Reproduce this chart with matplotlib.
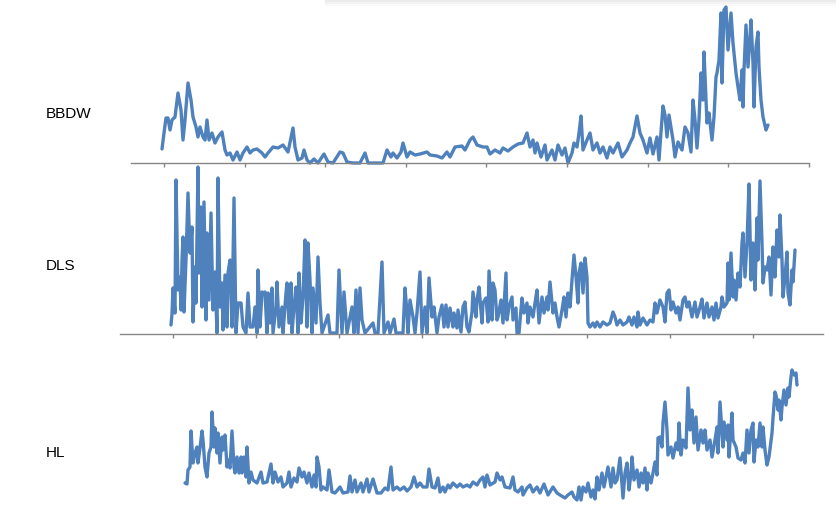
import matplotlib
matplotlib.use("Agg")
import matplotlib.pyplot as plt
from matplotlib.patches import Rectangle

# ---------------- data ----------------
series_names = ["BBDW", "DLS", "HL"]

bbdw_x = [0, 2, 4, 6, 8, 10, 13, 16, 19, 21, 23, 26, 29, 31, 34, 36, 38, 41, 43, 45, 47, 50, 53, 56, 60,
          63, 65, 68, 71, 75, 78, 81, 85, 88, 91, 95, 100, 103, 106, 111, 116, 121, 126, 131, 133, 136, 140,
          142, 145, 148, 152, 156, 162, 166, 171, 178, 181, 185, 191, 198, 203, 206, 211, 216, 221, 225, 229,
          231, 235, 239, 241, 245, 248, 253, 258, 265, 268, 275, 280, 285, 288, 293, 300, 303, 308, 311, 315,
          321, 325, 328, 333, 338, 341, 346, 351, 356, 361, 365, 368, 371, 373, 375, 379, 383, 385, 390, 393,
          396, 400, 403, 406, 410, 412, 415, 417, 419, 421, 425, 428, 431, 435, 438, 441, 445, 448, 451, 456,
          460, 465, 468, 471, 475, 478, 481, 485, 488, 491, 495, 497, 499, 501, 503, 505, 507, 511, 513, 516,
          520, 523, 526, 529, 531, 533, 535, 537, 539, 541, 542, 545, 547, 550, 552, 554, 555, 557, 559, 560,
          562, 564, 566, 569, 571, 574, 576, 578, 580, 581, 582, 584, 586, 588, 589, 591, 592, 594, 596, 597,
          599, 601, 604, 606]
bbdw_y = [14, 30, 45, 45, 33, 43, 46, 70, 53, 23, 43, 80, 63, 46, 36, 26, 36, 26, 23, 43, 23, 30, 20, 26, 31,
          13, 8, 10, 3, 11, 3, 10, 16, 10, 13, 14, 10, 6, 10, 16, 15, 18, 11, 35, 16, 3, 5,
          13, 3, 0, 4, 0, 9, 1, 0, 11, 10, 1, 0, 0, 10, 0, 0, 0, 0, 13, 6,
          10, 5, 11, 20, 6, 11, 8, 9, 11, 8, 7, 5, 11, 6, 16, 17, 13, 23, 26, 18,
          16, 16, 9, 13, 10, 15, 12, 16, 19, 20, 30, 16, 23, 10, 20, 6, 18, 3, 13, 3,
          18, 8, 15, 0, 10, 20, 16, 30, 47, 13, 23, 30, 13, 20, 10, 16, 5, 16, 10, 20,
          6, 13, 20, 26, 47, 30, 23, 10, 25, 9, 26, 3, 31, 57, 48, 26, 48, 23, 6, 21,
          13, 36, 30, 11, 63, 43, 15, 43, 90, 63, 111, 40, 50, 23, 46, 86, 90, 103, 150, 80,
          153, 156, 113, 150, 120, 90, 76, 63, 93, 56, 93, 138, 96, 126, 143, 100, 56, 116, 131, 96,
          63, 46, 33, 38]

dls_x = [0, 1, 2, 4, 5, 7, 9, 10, 11, 12, 13, 15, 17, 19, 21, 22, 24, 25, 27, 28, 30, 31, 33, 35, 36, 38,
         40, 42, 44, 46, 47, 49, 51, 52, 54, 56, 57, 59, 61, 63, 65, 67, 70, 72, 75, 77, 79, 82, 84, 86, 87,
         89, 91, 93, 94, 96, 97, 99, 101, 102, 105, 106, 108, 111, 112, 115, 116, 118, 120, 121, 123, 125,
         127, 128, 130, 132, 134, 136, 137, 139, 141, 142, 145, 147, 149, 151, 157, 159, 166, 168, 171, 173,
         176, 181, 183, 185, 187, 189, 191, 194, 202, 204, 207, 211, 213, 217, 219, 223, 225, 232, 234, 236,
         237, 239, 242, 244, 246, 249, 251, 254, 256, 258, 261, 263, 266, 268, 271, 273, 275, 277, 279, 282,
         283, 286, 287, 290, 292, 294, 296, 298, 301, 302, 305, 306, 308, 311, 312, 315, 317, 318, 321, 322,
         324, 326, 327, 330, 332, 335, 336, 338, 341, 342, 345, 346, 348, 351, 353, 356, 357, 359, 362, 364,
         366, 368, 371, 373, 376, 377, 379, 382, 384, 386, 388, 391, 393, 395, 397, 399, 401, 403, 405, 407,
         408, 410, 412, 414, 416, 417, 419, 422, 424, 426, 429, 432, 436, 439, 442, 444, 446, 449, 452, 456,
         458, 461, 463, 466, 467, 469, 472, 476, 479, 482, 484, 486, 489, 492, 494, 496, 498, 500, 502, 505,
         507, 509, 512, 514, 516, 518, 521, 524, 526, 529, 531, 533, 536, 538, 541, 543, 545, 547, 550, 551,
         553, 556, 557, 558, 560, 562, 563, 565, 567, 569, 571, 572, 574, 576, 578, 580, 582, 584, 586, 587,
         589, 591, 592, 594, 596, 598, 600, 602, 604, 606, 608, 609, 611, 612, 614, 616, 617, 619, 621, 622,
         624]
dls_y = [9, 20, 46, 21, 154, 44, 57, 24, 74, 97, 22, 74, 141, 81, 107, 12, 67, 31, 167, 61, 127, 27, 132, 14, 101, 34,
         121, 24, 62, 1, 156, 27, 51, 4, 59, 7, 61, 74, 7, 136, 1, 31, 31, 7, 1, 41, 7, 7, 27, 1, 64,
         7, 42, 41, 42, 1, 41, 11, 46, 1, 27, 52, 7, 27, 1, 41, 51, 11, 51, 1, 27, 47,
         1, 61, 11, 37, 94, 7, 91, 54, 1, 46, 11, 77, 31, 1, 19, 1, 1, 64, 1, 42,
         1, 27, 1, 44, 1, 46, 14, 1, 11, 1, 1, 72, 1, 12, 1, 15, 1, 1, 46, 21,
         1, 34, 17, 1, 21, 62, 1, 27, 1, 56, 17, 27, 1, 17, 29, 7, 29, 7, 26, 7,
         21, 6, 24, 2, 27, 32, 7, 2, 22, 42, 17, 34, 47, 11, 31, 36, 12, 63, 14, 51,
         44, 14, 17, 34, 11, 61, 14, 27, 37, 14, 26, 1, 1, 36, 21, 31, 11, 27, 17, 31,
         44, 11, 37, 21, 37, 24, 52, 21, 31, 17, 7, 24, 37, 17, 41, 27, 54, 79, 57, 31,
         61, 71, 41, 76, 57, 11, 7, 11, 7, 12, 7, 12, 9, 11, 22, 17, 9, 14, 9, 12,
         17, 9, 17, 7, 22, 9, 16, 9, 14, 12, 31, 21, 34, 27, 12, 41, 44, 24, 32, 21,
         27, 14, 34, 37, 27, 32, 17, 32, 17, 27, 35, 16, 31, 17, 27, 14, 31, 16, 27, 37,
         27, 31, 71, 34, 81, 37, 54, 34, 61, 47, 91, 101, 57, 91, 150, 54, 91, 44, 116, 74,
         153, 91, 51, 67, 64, 77, 39, 87, 57, 104, 77, 119, 74, 37, 57, 82, 41, 29, 64, 52,
         84]

hl_x = [0, 2, 3, 5, 6, 8, 10, 12, 13, 15, 17, 18, 20, 22, 24, 26, 27, 29, 30, 32, 33, 35, 37, 38, 40, 42,
        43, 45, 47, 49, 50, 52, 54, 56, 57, 59, 61, 62, 64, 66, 68, 72, 76, 78, 82, 86, 88, 90, 93, 96, 98,
        102, 104, 106, 109, 112, 114, 117, 119, 122, 124, 127, 129, 131, 132, 134, 136, 138, 142, 144, 147,
        150, 155, 158, 163, 165, 167, 170, 172, 176, 178, 182, 184, 188, 192, 196, 200, 203, 206, 208, 212,
        215, 219, 222, 226, 229, 232, 235, 238, 242, 244, 247, 250, 253, 255, 258, 260, 263, 265, 268, 272,
        275, 278, 282, 285, 288, 292, 295, 298, 300, 302, 305, 310, 312, 315, 317, 320, 325, 328, 330, 333,
        337, 338, 342, 345, 348, 352, 355, 359, 363, 368, 372, 375, 380, 383, 387, 389, 392, 394, 396, 398,
        401, 403, 406, 408, 410, 412, 414, 417, 419, 421, 423, 426, 428, 430, 432, 435, 438, 440, 442, 444,
        446, 447, 449, 452, 454, 456, 458, 460, 462, 463, 466, 468, 470, 472, 473, 475, 477, 478, 480, 482,
        483, 486, 488, 491, 493, 494, 496, 498, 501, 503, 505, 507, 509, 511, 513, 516, 518, 520, 522, 525,
        527, 530, 532, 533, 535, 538, 539, 542, 543, 544, 547, 548, 551, 553, 556, 558, 560, 562, 564, 566,
        568, 569, 571, 573, 575, 577, 578, 580, 582, 584, 587, 588, 590, 591, 593, 594, 596, 597, 599, 601,
        603, 604, 606, 607, 609, 611, 612]
hl_y = [22, 21, 35, 38, 74, 42, 52, 58, 42, 57, 74, 65, 38, 28, 52, 58, 93, 58, 77, 52, 72, 42, 68, 55, 70, 38,
        45, 37, 74, 38, 32, 48, 32, 48, 32, 48, 28, 58, 22, 33, 25, 22, 33, 22, 23, 41, 22, 33, 23, 28, 18,
        22, 33, 18, 27, 23, 37, 28, 33, 22, 32, 18, 30, 18, 48, 38, 15, 18, 15, 35, 13,
        12, 18, 12, 13, 29, 13, 25, 13, 22, 13, 26, 13, 26, 12, 12, 17, 15, 38, 15, 18,
        15, 18, 14, 18, 28, 18, 22, 18, 18, 36, 18, 17, 27, 13, 18, 13, 20, 17, 22, 18,
        21, 18, 20, 18, 23, 20, 25, 28, 18, 30, 20, 23, 32, 25, 28, 18, 17, 28, 15, 13,
        18, 10, 17, 20, 13, 18, 12, 21, 10, 18, 12, 10, 7, 10, 13, 8, 5, 18, 5, 18,
        13, 22, 8, 15, 6, 28, 15, 32, 18, 28, 38, 18, 37, 22, 25, 47, 7, 32, 42, 15,
        32, 48, 25, 35, 18, 32, 22, 37, 15, 32, 22, 32, 43, 30, 67, 68, 58, 82, 103, 75,
        50, 58, 47, 62, 55, 82, 50, 65, 57, 117, 75, 95, 62, 88, 55, 75, 62, 75, 55, 65,
        48, 65, 78, 52, 103, 58, 83, 65, 80, 48, 92, 65, 58, 47, 45, 52, 42, 75, 52, 75,
        82, 43, 65, 58, 82, 58, 78, 55, 40, 48, 72, 87, 113, 110, 95, 105, 85, 98, 115, 100,
        117, 108, 128, 135, 130, 132, 120]

# ---------------- style ----------------
W, H = 837, 515
LINE_COLOR = "#4F81BD"
AXIS_COLOR = "#868686"

fig = plt.figure(figsize=(W / 100, H / 100), dpi=100)
fig.patch.set_facecolor("white")


def px_axes(x0, x1, ybot, ytop):
    return fig.add_axes([x0 / W, 1 - ybot / H, (x1 - x0) / W, (ybot - ytop) / H])


panels = [
    # (x, y, ax px left, right, bottom, top, xlim, ylim, first tick, tick step, n ticks, label y px)
    (bbdw_x, bbdw_y, 131, 809, 163, 7, (-31, 647), (0, 156), 2, 80.6, 9, 114, True),
    (dls_x, dls_y, 120, 823, 334, 167, (-51, 652), (0, 167), 2, 82.9, 8, 266, True),
    (hl_x, hl_y, 120, 823, 505, 369, (-65, 638), (0, 136), 0, 0, 0, 453, False),
]

for name, (xs, ys, l, r, b, t, xl, yl, t0, ts, nt, ly, show_axis) in zip(series_names, panels):
    ax = px_axes(l, r, b, t)
    ax.plot(xs, ys, color=LINE_COLOR, lw=2.4, solid_joinstyle="round",
            solid_capstyle="round", clip_on=False)
    ax.set_xlim(*xl)
    ax.set_ylim(*yl)
    ax.patch.set_alpha(0)
    for s in ["top", "right", "left"]:
        ax.spines[s].set_visible(False)
    ax.set_yticks([])
    if show_axis:
        ax.spines["bottom"].set_color(AXIS_COLOR)
        ax.spines["bottom"].set_linewidth(1.0)
        ax.set_xticks([t0 + k * ts for k in range(nt)])
        ax.set_xticklabels([])
        ax.tick_params(axis="x", direction="out", length=3, width=1.0, color=AXIS_COLOR)
    else:
        ax.spines["bottom"].set_visible(False)
        ax.set_xticks([])
    fig.text(46 / W, 1 - ly / H, name, fontsize=11, family="Liberation Sans",
             ha="left", va="center", color="black")

# faint shadow band at the top right (window edge in the reference)
for i, (a, h) in enumerate([(0.05, 6), (0.06, 4), (0.08, 2)]):
    fig.patches.append(Rectangle((325 / W, 1 - h / H), 1 - 325 / W, h / H,
                                 transform=fig.transFigure, facecolor="#999999",
                                 alpha=a, edgecolor="none"))

fig.savefig("out.png", dpi=100, facecolor="white")
